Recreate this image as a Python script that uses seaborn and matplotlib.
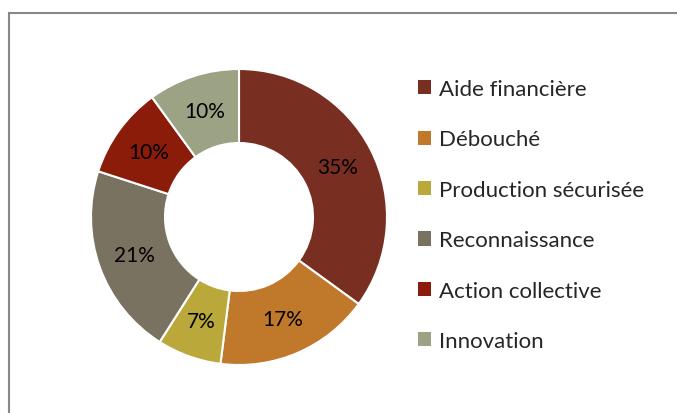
import matplotlib
matplotlib.use("Agg")
import matplotlib.pyplot as plt
from matplotlib.patches import Rectangle, Patch
import seaborn as sns

categories = ["Aide financière", "Débouché", "Production sécurisée",
              "Reconnaissance", "Action collective", "Innovation"]
values = [35, 17, 7, 21, 10, 10]
colors = ["#782F22", "#C0782A", "#BAA83A", "#7A7260", "#8B1C0A", "#9CA385"]

sns.set_theme(style="white")
plt.rcParams['font.family'] = ['Lato', 'DejaVu Sans']

W, H = 677, 414
fig = plt.figure(figsize=(W / 100, H / 100), dpi=100)
fig.patch.set_facecolor("white")

# frame
fig.add_artist(Rectangle((9 / W, -0.1), 1.2, 1 - 14 / H + 0.1, transform=fig.transFigure,
                         fill=False, edgecolor="#888888", linewidth=1.5))

cx, cy, r = 239, 218, 148
ax = fig.add_axes([(cx - r) / W, (H - cy - r) / H, 2 * r / W, 2 * r / H])
wedges, texts, autotexts = ax.pie(
    values, colors=colors, startangle=90, counterclock=False,
    autopct=lambda p: f"{p:.0f}%", pctdistance=0.75,
    wedgeprops=dict(width=0.5, edgecolor="white", linewidth=1.5),
    textprops=dict(fontsize=15, color="black"))
ax.set_xlim(-1, 1)
ax.set_ylim(-1, 1)
ax.set_aspect("equal")
ax.axis("off")

handles = [Patch(facecolor=c, edgecolor="none") for c in colors]
fig.legend(handles, categories, loc="upper left", bbox_to_anchor=(418 / W, 1 - 80 / H),
           frameon=False, fontsize=16, handlelength=0.6, handleheight=0.6,
           handletextpad=0.35, labelspacing=1.37, borderaxespad=0, borderpad=0)

fig.savefig("out.png", dpi=100, facecolor="white")
